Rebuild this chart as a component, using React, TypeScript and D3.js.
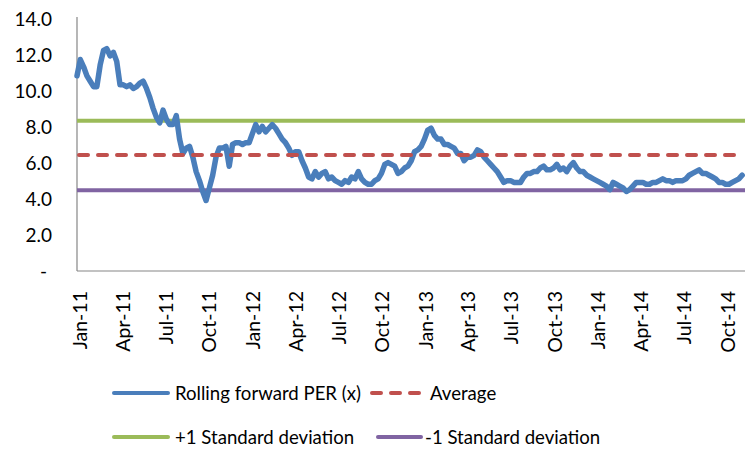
import React from "react";
import * as d3 from "d3";

// ---- data ----
const seriesStart = new Date(2010, 11, 26); // weekly observations
const axisStart = new Date(2010, 11, 26);
const axisEnd = new Date(2014, 10, 8);
const rollingPER = [
  10.8, 11.7, 11.3, 10.8, 10.5, 10.2, 10.2, 11.4, 12.2, 12.3,
  11.9, 12.1, 11.6, 10.3, 10.3, 10.2, 10.3, 10.1, 10.2, 10.4,
  10.5, 10.1, 9.6, 9.0, 8.5, 8.2, 8.9, 8.4, 8.1, 8.1,
  8.6, 7.3, 6.5, 6.8, 6.9, 6.3, 5.5, 5.0, 4.4, 3.9,
  4.6, 5.3, 6.3, 6.8, 6.8, 6.9, 5.8, 7.0, 7.1, 7.1,
  7.0, 7.1, 7.1, 7.6, 8.1, 7.7, 8.0, 7.7, 7.9, 8.1,
  7.9, 7.6, 7.3, 7.1, 6.8, 6.4, 6.6, 6.6, 6.1, 5.7,
  5.2, 5.1, 5.5, 5.2, 5.4, 5.5, 5.1, 5.2, 5.0, 4.9,
  4.8, 5.0, 4.9, 5.2, 5.1, 5.5, 5.1, 4.9, 4.8, 4.8,
  5.0, 5.1, 5.4, 5.9, 6.0, 5.9, 5.8, 5.4, 5.5, 5.7,
  5.8, 6.1, 6.6, 6.7, 6.9, 7.3, 7.8, 7.9, 7.5, 7.3,
  7.3, 7.0, 7.0, 6.9, 6.8, 6.5, 6.5, 6.1, 6.3, 6.3,
  6.4, 6.7, 6.6, 6.3, 6.1, 5.9, 5.7, 5.5, 5.2, 4.9,
  5.0, 5.0, 4.9, 4.9, 4.9, 5.2, 5.4, 5.4, 5.5, 5.5,
  5.7, 5.8, 5.6, 5.6, 5.7, 5.9, 5.6, 5.7, 5.5, 5.8,
  6.0, 5.7, 5.5, 5.5, 5.3, 5.2, 5.1, 5.0, 4.9, 4.8,
  4.7, 4.5, 4.9, 4.8, 4.7, 4.6, 4.4, 4.5, 4.7, 4.9,
  4.9, 4.9, 4.8, 4.8, 4.9, 4.9, 5.0, 5.1, 5.0, 5.0,
  4.9, 5.0, 5.0, 5.0, 5.1, 5.3, 5.4, 5.5, 5.6, 5.4,
  5.4, 5.3, 5.2, 5.1, 4.9, 4.9, 4.8, 4.8, 4.9, 5.0,
  5.1, 5.3,
];
const averageValue = 6.42;
const plusOneSD = 8.32;
const minusOneSD = 4.47;
const yTickValues = [0, 2, 4, 6, 8, 10, 12, 14];
const xTickDates = d3.timeMonths(new Date(2011, 0, 1), new Date(2014, 10, 1), 3);

const legendLabels = [
  "Rolling forward PER (x)",
  "Average",
  "+1 Standard deviation",
  "-1 Standard deviation",
];

// ---- styles ----
const BLUE = "#4A7EBB";
const RED = "#C0504D";
const GREEN = "#9BBB59";
const PURPLE = "#8064A2";
const AXIS = "#868686";
const FONT = "Lato, 'Open Sans', sans-serif";

export default function App() {
  const W = 752;
  const H = 452;
  const x = d3.scaleTime().domain([axisStart, axisEnd]).range([77, 745]);
  const y = d3.scaleLinear().domain([0, 14]).range([271, 18]);

  const data = rollingPER.map((v, i) => ({
    date: d3.timeDay.offset(seriesStart, i * 7),
    value: v,
  }));

  const line = d3
    .line<{ date: Date; value: number }>()
    .x((d) => x(d.date))
    .y((d) => y(d.value))
    .curve(d3.curveLinear);

  const fmt = d3.timeFormat("%b-%y");
  const yFmt = (v: number) => (v === 0 ? "-" : v.toFixed(1));

  const x0 = x.range()[0];
  const x1 = x.range()[1];

  return (
    <svg
      width={W}
      height={H}
      style={{ position: "absolute", left: 0, top: 0, background: "#fff" }}
      fontFamily={FONT}
    >
      <rect width={W} height={H} fill="#fff" />
      {/* axes */}
      <line x1={x0} x2={x0} y1={y(14) - 1} y2={y(0)} stroke={AXIS} strokeWidth={1.2} />
      <line x1={x0} x2={x1} y1={y(0)} y2={y(0)} stroke={AXIS} strokeWidth={1.2} />

      {/* y labels */}
      {yTickValues.map((t) => (
        <text
          key={t}
          x={t === 0 ? 47 : 52}
          y={t === 0 ? y(t) - 1 : y(t)}
          textAnchor="end"
          dominantBaseline="central"
          fontSize={19}
          fill="#000"
        >
          {yFmt(t)}
        </text>
      ))}

      {/* x labels */}
      {xTickDates.map((d, i) => (
        <text
          key={i}
          transform={`translate(${x(d)},291) rotate(-90)`}
          textAnchor="end"
          dominantBaseline="central"
          fontSize={19.5}
          fill="#000"
        >
          {fmt(d)}
        </text>
      ))}

      {/* reference lines */}
      <line x1={x0} x2={x1} y1={y(plusOneSD)} y2={y(plusOneSD)} stroke={GREEN} strokeWidth={4} />
      <line x1={x0} x2={x1} y1={y(minusOneSD)} y2={y(minusOneSD)} stroke={PURPLE} strokeWidth={4} />

      {/* series */}
      <path
        d={line(data) || ""}
        fill="none"
        stroke={BLUE}
        strokeWidth={5.5}
        strokeLinejoin="round"
        strokeLinecap="round"
      />

      <line
        x1={x0 + 2}
        x2={x1 - 4}
        y1={y(averageValue)}
        y2={y(averageValue)}
        stroke={RED}
        strokeWidth={4}
        strokeDasharray="9 10"
        strokeLinecap="round"
      />

      {/* legend */}
      <g fontSize={18.6} fill="#000">
        <line x1={114} x2={168} y1={393} y2={393} stroke={BLUE} strokeWidth={4} strokeLinecap="round" />
        <text x={175} y={393} dominantBaseline="central">{legendLabels[0]}</text>
        <line x1={372} x2={419} y1={393} y2={393} stroke={RED} strokeWidth={4} strokeDasharray="9 10" strokeLinecap="round" />
        <text x={430} y={393} dominantBaseline="central">{legendLabels[1]}</text>
        <line x1={114} x2={168} y1={437} y2={437} stroke={GREEN} strokeWidth={4} strokeLinecap="round" />
        <text x={175} y={437} dominantBaseline="central">{legendLabels[2]}</text>
        <line x1={378} x2={421} y1={437} y2={437} stroke={PURPLE} strokeWidth={4} strokeLinecap="round" />
        <text x={425} y={437} dominantBaseline="central">{legendLabels[3]}</text>
      </g>
    </svg>
  );
}
